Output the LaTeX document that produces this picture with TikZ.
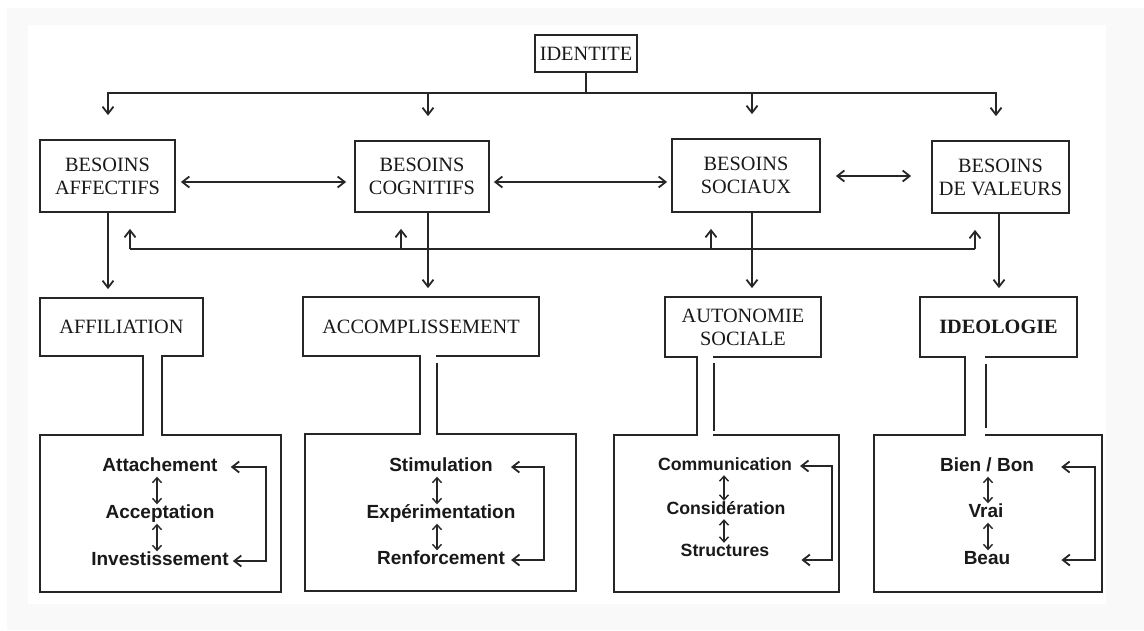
\documentclass[tikz,border=0pt]{standalone}
\usepackage{fontspec}
\setmainfont{Liberation Serif}
\newfontfamily\itemfont{Liberation Sans}
\usetikzlibrary{arrows.meta, positioning}
\tikzstyle{need} = [rectangle, draw=black!85, line width=1.8pt, align=center, inner sep=0pt, text=black!90, font=\fontsize{20.3}{23}\selectfont]
\tikzstyle{panel} = [rectangle, draw=black!85, line width=1.8pt, inner sep=0pt]
\tikzstyle{item} = [inner sep=1pt, text height=13pt, text depth=4pt, text=black!90, font=\itemfont\bfseries\fontsize{19}{22}\selectfont]
\tikzstyle{smallitem} = [item, text height=12pt, font=\itemfont\bfseries\fontsize{17.7}{21}\selectfont]
\tikzstyle{wire} = [draw=black!85, line width=1.8pt]
\tikzstyle{arrow} = [wire, -{Straight Barb[length=7pt,width=11pt]}]
\tikzstyle{twoway} = [wire, {Straight Barb[length=7pt,width=11pt]}-{Straight Barb[length=7pt,width=11pt]}]
\tikzstyle{pairarrow} = [wire, line width=1.4pt, {Straight Barb[length=5pt,width=9pt]}-{Straight Barb[length=5pt,width=9pt]}]

% open double line between a title box and its panel
\newcommand{\pipe}[5]{%
  \fill[white] ([xshift=#3pt+1.2pt, yshift=3pt]#1.south) rectangle ([xshift=#4pt-1.2pt, yshift=-3pt]#1.south |- #2.north);
  \draw[wire] ([xshift=#3pt]#1.south) -- ([xshift=#3pt]#1.south |- #2.north);
  \draw[wire, #5] ([xshift=#4pt]#1.south) -- ([xshift=#4pt]#1.south |- #2.north);}

\begin{document}
\begin{tikzpicture}[x=1pt, y=-1pt]

\useasboundingbox (0,0) rectangle (1144,630);
\fill[white] (0,0) rectangle (1144,630);
\fill[black!2.5] (7,8) rectangle (1144,630);
\fill[white] (28,25) rectangle (1106,604);

% needs
\node (ident) [need, minimum width=102, minimum height=37] at (586,53.5) {IDENTITE};

\node (aff) [need, minimum width=135, minimum height=72] at (107.5,176) {BESOINS\\AFFECTIFS};
\node (cog) [need, minimum width=134, minimum height=71] at (422,176.5) {BESOINS\\COGNITIFS};
\node (soc) [need, minimum width=148, minimum height=73] at (746,175.5) {BESOINS\\SOCIAUX};
\node (val) [need, minimum width=137, minimum height=72] at (1000.5,177) {BESOINS\\DE VALEURS};

\node (affil) [need, minimum width=163, minimum height=58] at (121.5,327) {AFFILIATION};
\node (accom) [need, minimum width=236, minimum height=59] at (421,326.5) {ACCOMPLISSEMENT};
\node (auto) [need, minimum width=156, minimum height=60] at (743,327) {AUTONOMIE\\SOCIALE};
\node (ideo) [need, minimum width=157, minimum height=60] at (998.5,327) {\bfseries IDEOLOGIE};

% panels
\node (affpanel) [panel, minimum width=241, minimum height=157] at (160.5,513.5) {};
\node (accpanel) [panel, minimum width=271, minimum height=157] at (440.5,512.5) {};
\node (autpanel) [panel, minimum width=225, minimum height=157] at (726.5,513.5) {};
\node (idepanel) [panel, minimum width=228, minimum height=157] at (988,513.5) {};

% identite to needs
\coordinate (split) at (587,93);
\draw[wire] (ident) -- (ident |- split);
\foreach \n/\dx in {aff/0.5, cog/6, soc/6, val/-4.5}
  \draw[arrow] (ident |- split) -| ([xshift=\dx pt, yshift=24pt]\n.north);

\draw[twoway, shorten <=5pt, shorten >=8pt] ([yshift=-6pt]aff.east) -- ([yshift=-6pt]aff.east -| cog.west);
\draw[twoway, shorten <=4pt, shorten >=4pt] ([yshift=-5.5pt]cog.east) -- ([yshift=-5.5pt]cog.east -| soc.west);
\draw[twoway, shorten <=15pt, shorten >=20pt] ([yshift=-0.5pt]soc.east) -- ([yshift=-0.5pt]soc.east -| val.west);

% needs to poles
\foreach \a/\b/\dx in {aff/affil/0.5, cog/accom/6, soc/auto/6, val/ideo/-1.5}
  \draw[arrow] ([xshift=\dx pt]\a.south) -- ([xshift=\dx pt, yshift=8pt]\a.south |- \b.north);

% feedback line
\coordinate (fb) at (0,249);
\draw[wire] ([xshift=22.5pt]aff.south |- fb) -- ([xshift=-25.5pt]val.south |- fb);
\foreach \n/\dx in {aff/22.5, cog/-21, soc/-35, val/-25.5}
  \draw[arrow] ([xshift=\dx pt]\n.south |- fb) -- ([xshift=\dx pt, yshift=-16pt]\n.south);

% poles to panels
\pipe{affil}{affpanel}{21.5}{40.5}{}
\pipe{accom}{accpanel}{-1}{16}{shorten <=6pt}
\pipe{auto}{autpanel}{-46}{-29}{shorten <=5pt, shorten >=3pt}
\pipe{ideo}{idepanel}{-33.5}{-12.5}{shorten <=6pt, shorten >=6pt}

% panel contents
\node (att) [item] at (160,467) {Attachement};
\node (acc) [item] at (160,514) {Acceptation};
\node (inv) [item] at (160,561) {Investissement};
\draw[pairarrow] ([xshift=-3pt]att.south) -- ([xshift=-3pt]acc.north);
\draw[pairarrow] ([xshift=-3pt]acc.south) -- ([xshift=-3pt]inv.north);
\draw[twoway] ([xshift=12pt]att.east) -- ++(35,0) |- ([xshift=3pt]inv.east);

\node (sti) [item] at (441,467) {Stimulation};
\node (exp) [item] at (441,514) {Expérimentation};
\node (ren) [item] at (441,560) {Renforcement};
\draw[pairarrow] ([xshift=-4pt]sti.south) -- ([xshift=-4pt]exp.north);
\draw[pairarrow] ([xshift=-4pt]exp.south) -- ([xshift=-4pt]ren.north);
\draw[twoway] ([xshift=17pt]sti.east) -- ++(33,0) |- ([xshift=5pt]ren.east);

\node (com) [smallitem] at (725,466) {Communication};
\node (con) [smallitem] at (726,510) {Considération};
\node (str) [smallitem] at (725,552) {Structures};
\draw[pairarrow] ([xshift=-1pt]com.south) -- ([xshift=-2pt]con.north);
\draw[pairarrow] ([xshift=-2pt]con.south) -- ([xshift=-1pt]str.north);
\draw[twoway] ([xshift=7pt]com.east) -- ++(32,0) |- ([xshift=31pt, yshift=-8pt]str.east);

\node (bie) [item] at (987,467) {Bien / Bon};
\node (vra) [item] at (986,513) {Vrai};
\node (bea) [item] at (987,560) {Beau};
\draw[pairarrow] ([xshift=1pt]bie.south) -- ([xshift=2pt]vra.north);
\draw[pairarrow] ([xshift=2pt]vra.south) -- ([xshift=1pt]bea.north);
\draw[twoway] ([xshift=26pt]bie.east) -- ++(34,0) |- ([xshift=50pt]bea.east);

\end{tikzpicture}
\end{document}
